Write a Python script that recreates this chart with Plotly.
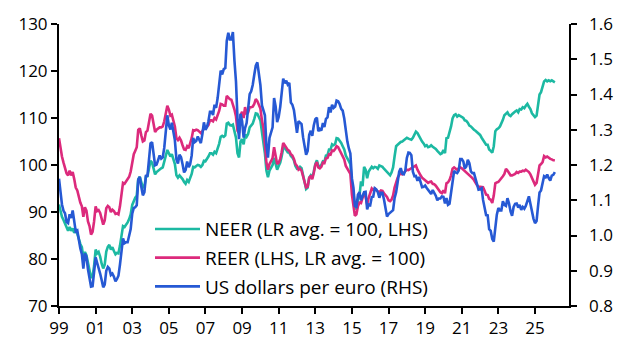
import plotly.graph_objects as go
import pandas as pd

# Monthly data, Jan 1999 - Feb 2026
neer = [
    # 1999
    91.6, 90.2, 89.0, 88.3, 87.5, 86.4, 86.0, 86.8, 86.0, 86.5, 85.6, 86.4,
    # 2000
    85.5, 84.3, 83.2, 82.5, 80.3, 81.5, 80.8, 79.0, 77.3, 76.0, 76.4, 78.5,
    # 2001
    82.0, 81.2, 81.5, 80.5, 79.0, 78.0, 78.8, 81.6, 82.6, 83.0, 82.0, 82.5,
    # 2002
    81.7, 81.0, 81.3, 81.2, 82.8, 85.0, 87.0, 86.8, 87.2, 87.8, 88.5, 89.5,
    # 2003
    91.5, 92.5, 93.0, 93.5, 97.0, 97.5, 96.3, 95.2, 95.4, 97.5, 97.6, 99.5,
    # 2004
    100.9, 100.5, 99.5, 98.0, 98.5, 98.8, 99.2, 99.3, 99.5, 100.5, 102.0, 103.2,
    # 2005
    102.5, 101.8, 102.3, 101.0, 100.2, 97.8, 97.3, 97.8, 97.5, 97.0, 96.4, 96.0,
    # 2006
    96.8, 96.4, 97.2, 98.1, 99.6, 99.5, 99.8, 100.0, 99.9, 99.6, 100.0, 100.9,
    # 2007
    100.8, 101.2, 101.8, 102.5, 102.5, 102.2, 102.8, 102.5, 103.5, 104.5, 106.0, 106.2,
    # 2008
    106.0, 106.3, 108.8, 109.0, 108.5, 108.4, 108.6, 107.2, 105.8, 102.5, 101.6, 105.0,
    # 2009
    105.5, 104.4, 106.5, 106.0, 106.6, 108.0, 108.5, 108.8, 109.8, 111.0, 110.9, 110.2,
    # 2010
    109.5, 107.0, 105.0, 102.5, 98.8, 97.4, 98.8, 99.3, 100.0, 101.5, 100.4, 99.0,
    # 2011
    99.8, 100.5, 101.8, 103.5, 103.7, 103.3, 102.7, 102.6, 101.9, 101.6, 101.0, 99.8,
    # 2012
    99.2, 99.3, 99.6, 99.3, 98.0, 96.8, 94.9, 95.2, 97.3, 97.8, 97.3, 98.6,
    # 2013
    100.2, 101.0, 99.8, 99.7, 100.0, 100.8, 100.7, 102.0, 102.1, 103.3, 103.3, 104.4,
    # 2014
    104.2, 104.5, 105.7, 105.6, 105.2, 104.7, 104.0, 103.3, 102.0, 101.2, 100.8, 100.2,
    # 2015
    95.8, 94.0, 91.0, 90.6, 92.6, 93.5, 96.5, 95.5, 99.6, 99.0, 97.2, 98.6,
    # 2016
    99.0, 99.6, 99.3, 99.6, 99.5, 99.2, 99.9, 99.8, 99.6, 99.2, 98.8, 98.5,
    # 2017
    98.2, 97.8, 98.4, 99.5, 101.8, 104.0, 104.3, 104.7, 104.9, 105.0, 105.3, 105.7,
    # 2018
    105.8, 105.6, 105.5, 105.4, 105.8, 106.5, 107.1, 106.8, 106.1, 105.6, 105.0, 104.6,
    # 2019
    104.0, 104.2, 103.8, 103.9, 104.2, 103.9, 103.7, 103.4, 103.0, 102.7, 102.3, 102.5,
    # 2020
    103.2, 102.5, 105.7, 105.8, 106.8, 108.2, 109.9, 110.6, 110.8, 110.3, 110.6, 110.4,
    # 2021
    110.2, 110.0, 109.5, 109.4, 109.0, 108.4, 108.2, 107.8, 107.5, 107.3, 107.0, 106.8,
    # 2022
    106.4, 105.8, 105.4, 104.8, 104.3, 104.3, 103.3, 103.0, 102.6, 104.0, 107.2, 107.6,
    # 2023
    107.8, 108.2, 108.8, 109.6, 110.6, 111.0, 111.2, 110.6, 110.4, 110.8, 111.2, 111.4,
    # 2024
    111.6, 111.2, 111.9, 111.8, 112.3, 112.1, 112.6, 113.0, 112.4, 111.9, 111.0, 110.6,
    # 2025
    110.2, 110.5, 113.0, 115.0, 115.5, 116.8, 117.8, 118.1, 117.8, 118.0, 117.8, 118.0,
    # 2026
    117.8, 117.6,
]

reer = [
    # 1999
    105.7, 103.5, 101.8, 100.5, 99.5, 98.2, 97.8, 98.8, 97.8, 98.5, 97.0, 95.2,
    # 2000
    94.6, 93.0, 92.0, 91.2, 89.0, 91.0, 90.3, 88.0, 87.0, 85.2, 85.8, 88.0,
    # 2001
    91.2, 90.2, 90.4, 89.8, 88.5, 87.3, 88.2, 90.8, 91.3, 91.0, 90.0, 90.5,
    # 2002
    90.2, 89.6, 89.7, 89.5, 91.2, 94.0, 96.2, 96.0, 96.5, 96.9, 97.5, 98.6,
    # 2003
    100.9, 102.3, 103.0, 103.8, 107.5, 107.8, 106.3, 105.0, 105.2, 107.0, 107.3, 109.5,
    # 2004
    110.9, 110.5, 108.7, 107.0, 107.5, 107.8, 108.0, 108.0, 108.2, 109.3, 111.0, 112.6,
    # 2005
    111.8, 110.5, 110.7, 109.4, 108.2, 105.7, 105.3, 105.8, 105.2, 104.2, 103.3, 103.2,
    # 2006
    104.0, 103.6, 104.6, 105.7, 107.4, 107.3, 107.5, 107.4, 107.1, 106.8, 107.2, 107.8,
    # 2007
    107.8, 108.2, 108.5, 109.5, 109.5, 109.3, 110.0, 109.7, 110.6, 111.5, 113.0, 112.9,
    # 2008
    112.6, 112.6, 114.7, 114.3, 114.0, 113.9, 113.0, 111.8, 110.3, 107.3, 106.8, 110.6,
    # 2009
    111.3, 110.0, 112.3, 111.0, 111.2, 112.3, 112.3, 112.4, 113.0, 114.0, 113.6, 112.8,
    # 2010
    112.0, 109.5, 108.0, 104.5, 100.5, 99.0, 100.2, 100.8, 101.5, 103.8, 102.0, 100.2,
    # 2011
    100.5, 101.3, 102.7, 104.7, 104.2, 103.7, 103.2, 103.0, 102.3, 102.0, 101.3, 100.2,
    # 2012
    99.8, 99.0, 99.2, 98.8, 97.5, 96.5, 95.2, 95.4, 97.3, 97.6, 97.0, 98.3,
    # 2013
    100.0, 100.6, 99.5, 99.3, 99.6, 100.5, 100.4, 101.4, 101.5, 102.3, 102.2, 103.1,
    # 2014
    103.0, 103.4, 104.0, 103.8, 103.2, 102.4, 101.9, 101.2, 99.8, 99.2, 98.6, 98.1,
    # 2015
    93.7, 91.5, 89.2, 89.5, 91.2, 92.0, 91.9, 93.0, 94.0, 93.2, 91.6, 93.0,
    # 2016
    94.2, 95.0, 94.7, 95.0, 94.6, 94.3, 94.2, 94.6, 94.5, 94.0, 93.6, 93.2,
    # 2017
    92.5, 92.3, 92.6, 93.5, 95.2, 96.4, 97.3, 97.9, 98.2, 98.0, 98.4, 98.7,
    # 2018
    99.0, 98.9, 99.1, 99.2, 99.4, 99.7, 99.9, 99.0, 98.3, 97.8, 97.3, 97.0,
    # 2019
    96.6, 96.3, 96.2, 96.4, 96.5, 96.0, 95.9, 95.6, 95.1, 94.7, 94.2, 94.0,
    # 2020
    94.6, 94.0, 96.1, 96.3, 96.8, 97.8, 99.2, 99.5, 99.3, 99.0, 99.3, 99.5,
    # 2021
    99.3, 99.0, 98.8, 98.5, 98.1, 98.0, 97.5, 97.2, 96.8, 96.2, 95.7, 95.4,
    # 2022
    95.4, 95.4, 95.3, 94.5, 93.7, 93.6, 92.8, 92.6, 91.9, 93.5, 96.1, 96.3,
    # 2023
    96.4, 96.8, 97.1, 97.6, 98.1, 99.2, 98.8, 98.3, 97.8, 97.8, 98.0, 98.1,
    # 2024
    98.5, 98.3, 98.6, 98.6, 98.8, 98.7, 99.0, 98.8, 98.5, 98.0, 97.2, 96.8,
    # 2025
    95.8, 96.2, 98.0, 99.9, 100.2, 100.6, 101.9, 101.6, 101.8, 101.5, 101.3, 101.2,
    # 2026
    101.0, 101.0,
]

usd_per_eur = [
    # 1999
    1.161, 1.121, 1.088, 1.070, 1.063, 1.038, 1.035, 1.060, 1.050, 1.071, 1.034, 1.011,
    # 2000
    1.014, 0.983, 0.964, 0.947, 0.906, 0.949, 0.940, 0.904, 0.872, 0.855, 0.856, 0.897,
    # 2001
    0.938, 0.922, 0.910, 0.892, 0.874, 0.853, 0.861, 0.900, 0.911, 0.906, 0.888, 0.892,
    # 2002
    0.883, 0.870, 0.876, 0.886, 0.917, 0.956, 0.992, 0.978, 0.981, 0.981, 1.001, 1.018,
    # 2003
    1.062, 1.078, 1.080, 1.086, 1.158, 1.166, 1.138, 1.114, 1.123, 1.169, 1.170, 1.229,
    # 2004
    1.261, 1.265, 1.226, 1.199, 1.201, 1.214, 1.227, 1.218, 1.222, 1.249, 1.299, 1.341,
    # 2005
    1.312, 1.301, 1.320, 1.294, 1.270, 1.216, 1.204, 1.229, 1.222, 1.202, 1.179, 1.186,
    # 2006
    1.210, 1.194, 1.202, 1.227, 1.277, 1.265, 1.268, 1.281, 1.273, 1.262, 1.288, 1.321,
    # 2007
    1.300, 1.308, 1.324, 1.351, 1.351, 1.342, 1.371, 1.362, 1.390, 1.423, 1.468, 1.457,
    # 2008
    1.472, 1.475, 1.552, 1.575, 1.556, 1.556, 1.577, 1.497, 1.437, 1.333, 1.273, 1.345,
    # 2009
    1.324, 1.278, 1.305, 1.319, 1.365, 1.401, 1.409, 1.427, 1.456, 1.482, 1.491, 1.458,
    # 2010
    1.427, 1.369, 1.357, 1.341, 1.256, 1.221, 1.277, 1.290, 1.307, 1.390, 1.366, 1.322,
    # 2011
    1.336, 1.365, 1.400, 1.445, 1.432, 1.439, 1.428, 1.433, 1.377, 1.371, 1.356, 1.318,
    # 2012
    1.291, 1.324, 1.320, 1.316, 1.279, 1.253, 1.229, 1.240, 1.286, 1.297, 1.283, 1.312,
    # 2013
    1.330, 1.334, 1.296, 1.302, 1.298, 1.319, 1.308, 1.331, 1.335, 1.364, 1.349, 1.371,
    # 2014
    1.362, 1.366, 1.383, 1.381, 1.373, 1.359, 1.354, 1.332, 1.290, 1.267, 1.247, 1.233,
    # 2015
    1.162, 1.135, 1.083, 1.081, 1.116, 1.123, 1.100, 1.114, 1.123, 1.124, 1.074, 1.088,
    # 2016
    1.086, 1.109, 1.110, 1.134, 1.131, 1.123, 1.107, 1.121, 1.121, 1.103, 1.080, 1.054,
    # 2017
    1.061, 1.064, 1.068, 1.072, 1.106, 1.123, 1.151, 1.181, 1.191, 1.176, 1.174, 1.184,
    # 2018
    1.220, 1.235, 1.234, 1.228, 1.181, 1.168, 1.169, 1.155, 1.166, 1.148, 1.137, 1.138,
    # 2019
    1.142, 1.135, 1.130, 1.124, 1.118, 1.129, 1.122, 1.113, 1.100, 1.105, 1.105, 1.111,
    # 2020
    1.110, 1.091, 1.106, 1.087, 1.090, 1.125, 1.146, 1.183, 1.179, 1.177, 1.184, 1.217,
    # 2021
    1.217, 1.210, 1.190, 1.196, 1.215, 1.205, 1.182, 1.177, 1.177, 1.160, 1.141, 1.130,
    # 2022
    1.131, 1.134, 1.101, 1.082, 1.058, 1.057, 1.018, 1.013, 0.990, 0.983, 1.021, 1.059,
    # 2023
    1.078, 1.071, 1.071, 1.097, 1.087, 1.084, 1.106, 1.091, 1.068, 1.056, 1.081, 1.090,
    # 2024
    1.091, 1.079, 1.087, 1.073, 1.081, 1.076, 1.084, 1.101, 1.111, 1.090, 1.063, 1.048,
    # 2025
    1.035, 1.041, 1.081, 1.122, 1.128, 1.153, 1.168, 1.165, 1.173, 1.163, 1.156, 1.170,
    # 2026
    1.172, 1.180,
]

dates = pd.date_range("1999-01-01", periods=len(neer), freq="MS")

tick_years = list(range(1999, 2026, 2))
tick_vals = [f"{y}-01-01" for y in tick_years]
tick_text = [f"{y % 100:02d}" for y in tick_years]

left_ticks = [70, 80, 90, 100, 110, 120, 130]
right_ticks = [0.8, 0.9, 1.0, 1.1, 1.2, 1.3, 1.4, 1.5, 1.6]

TEAL = "#1CB9A2"
PINK = "#DC2A7C"
BLUE = "#2659D4"
FONT = "Open Sans"

# Geometry (px): plot area from x=59 to x=569, right margin 30
W, H = 625, 354
ML, MR, MT, MB = 59, 30, 16, 48
plot_w = W - ML - MR
x_dom_end = (569 - ML) / plot_w
label_axis_pos = (588 - ML) / plot_w

fig = go.Figure()
fig.add_trace(go.Scatter(x=dates, y=neer, mode="lines", name="NEER (LR avg. = 100, LHS)",
                         line=dict(color=TEAL, width=2.6), legendgroup="a"))
fig.add_trace(go.Scatter(x=dates, y=reer, mode="lines", name="REER (LHS, LR avg. = 100)",
                         line=dict(color=PINK, width=2.6), legendgroup="b"))
fig.add_trace(go.Scatter(x=dates, y=usd_per_eur, mode="lines", name="US dollars per euro (RHS)",
                         line=dict(color=BLUE, width=2.6), yaxis="y3", legendgroup="c"))
# empty helper trace so that the right-hand axis line and ticks are drawn
fig.add_trace(go.Scatter(x=[], y=[], mode="lines", yaxis="y2", showlegend=False,
                         hoverinfo="skip"))

tickfont = dict(family=FONT, size=17, color="black")
axis_common = dict(showgrid=False, zeroline=False, showline=True, linecolor="black",
                   linewidth=2, ticks="outside", tickcolor="black", tickwidth=2, ticklen=6,
                   tickfont=tickfont)

fig.update_layout(
    width=W, height=H,
    margin=dict(l=ML, r=MR, t=MT, b=MB),
    paper_bgcolor="white", plot_bgcolor="white",
    font=dict(family=FONT, size=17, color="black"),
    xaxis=dict(type="date", range=["1999-01-01", "2026-11-10"], domain=[0, x_dom_end],
               tickvals=tick_vals, ticktext=tick_text, **axis_common),
    yaxis=dict(range=[70, 130], tickvals=left_ticks, **axis_common),
    # right axis: line and tick marks
    yaxis2=dict(range=[0.8, 1.6], tickvals=right_ticks, showticklabels=False,
                overlaying="y", side="right", anchor="x", **axis_common),
    # right axis labels, placed a little further out
    yaxis3=dict(range=[0.8, 1.6], tickvals=right_ticks, tickformat=".1f",
                overlaying="y", side="right", anchor="free", position=label_axis_pos,
                showgrid=False, zeroline=False, showline=False, ticks="",
                tickfont=tickfont),
    showlegend=True,
    legend=dict(x=(150 - ML) / (569 - ML) * x_dom_end, y=0.34, xanchor="left", yanchor="top",
                bgcolor="rgba(0,0,0,0)", tracegroupgap=1, itemwidth=45,
                font=dict(family=FONT, size=19, color="black")),
)

fig.write_html("out.html")
